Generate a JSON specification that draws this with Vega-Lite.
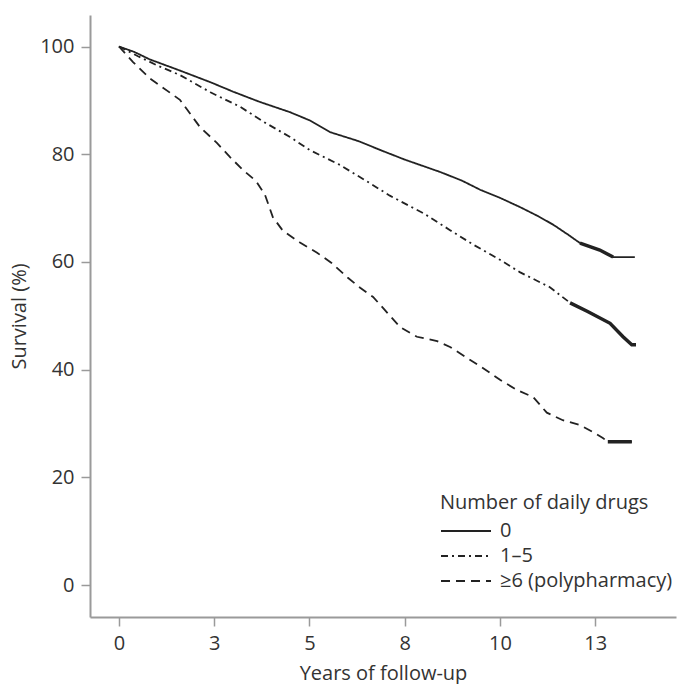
{
  "$schema": "https://vega.github.io/schema/vega-lite/v6.json",
  "width": 586,
  "height": 602,
  "autosize": "none",
  "padding": {"left": 90, "top": 15, "right": 4, "bottom": 67},
  "background": "white",
  "config": {
    "view": {"stroke": null},
    "font": "Open Sans",
    "axis": {
      "domainColor": "#9a9a9a",
      "domainWidth": 2,
      "tickColor": "#9a9a9a",
      "tickWidth": 1.5,
      "tickSize": 9,
      "grid": false,
      "labelFont": "Open Sans",
      "labelFontSize": 20,
      "labelColor": "#333333",
      "titleFont": "Open Sans",
      "titleFontSize": 20,
      "titleFontWeight": "normal",
      "titleColor": "#333333"
    }
  },
  "data": {
    "values": [
      {"group": "0", "t": 0, "s": 100, "dense": false},
      {"group": "0", "t": 0.4, "s": 99, "dense": false},
      {"group": "0", "t": 0.81, "s": 97.6, "dense": false},
      {"group": "0", "t": 1.5, "s": 95.8, "dense": false},
      {"group": "0", "t": 2.39, "s": 93.4, "dense": false},
      {"group": "0", "t": 3.0, "s": 91.6, "dense": false},
      {"group": "0", "t": 3.7, "s": 89.7, "dense": false},
      {"group": "0", "t": 4.49, "s": 87.8, "dense": false},
      {"group": "0", "t": 5.0, "s": 86.3, "dense": false},
      {"group": "0", "t": 5.54, "s": 84.1, "dense": false},
      {"group": "0", "t": 6.3, "s": 82.4, "dense": false},
      {"group": "0", "t": 6.85, "s": 80.8, "dense": false},
      {"group": "0", "t": 7.5, "s": 79.0, "dense": false},
      {"group": "0", "t": 8.43, "s": 76.7, "dense": false},
      {"group": "0", "t": 9.0, "s": 75.1, "dense": false},
      {"group": "0", "t": 9.48, "s": 73.4, "dense": false},
      {"group": "0", "t": 10.0, "s": 71.9, "dense": false},
      {"group": "0", "t": 10.52, "s": 70.2, "dense": false},
      {"group": "0", "t": 11.0, "s": 68.5, "dense": false},
      {"group": "0", "t": 11.4, "s": 66.9, "dense": false},
      {"group": "0", "t": 11.8, "s": 65.0, "dense": false},
      {"group": "0", "t": 12.1, "s": 63.5, "dense": true},
      {"group": "0", "t": 12.62, "s": 62.2, "dense": true},
      {"group": "0", "t": 12.97, "s": 60.9, "dense": true},
      {"group": "0", "t": 13.54, "s": 60.9, "dense": false},
      {"group": "1–5", "t": 0, "s": 100, "dense": false},
      {"group": "1–5", "t": 0.5, "s": 98.2, "dense": false},
      {"group": "1–5", "t": 1.0, "s": 96.5, "dense": false},
      {"group": "1–5", "t": 1.6, "s": 94.7, "dense": false},
      {"group": "1–5", "t": 2.4, "s": 91.5, "dense": false},
      {"group": "1–5", "t": 3.18, "s": 88.8, "dense": false},
      {"group": "1–5", "t": 3.8, "s": 86.0, "dense": false},
      {"group": "1–5", "t": 4.49, "s": 83.2, "dense": false},
      {"group": "1–5", "t": 5.0, "s": 80.8, "dense": false},
      {"group": "1–5", "t": 5.8, "s": 78.0, "dense": false},
      {"group": "1–5", "t": 6.5, "s": 75.0, "dense": false},
      {"group": "1–5", "t": 7.11, "s": 72.3, "dense": false},
      {"group": "1–5", "t": 8.0, "s": 69.0, "dense": false},
      {"group": "1–5", "t": 8.69, "s": 65.9, "dense": false},
      {"group": "1–5", "t": 9.3, "s": 63.2, "dense": false},
      {"group": "1–5", "t": 10.0, "s": 60.4, "dense": false},
      {"group": "1–5", "t": 10.52, "s": 58.1, "dense": false},
      {"group": "1–5", "t": 11.31, "s": 55.3, "dense": false},
      {"group": "1–5", "t": 11.84, "s": 52.4, "dense": true},
      {"group": "1–5", "t": 12.3, "s": 50.8, "dense": true},
      {"group": "1–5", "t": 12.89, "s": 48.6, "dense": true},
      {"group": "1–5", "t": 13.23, "s": 46.1, "dense": true},
      {"group": "1–5", "t": 13.46, "s": 44.6, "dense": true},
      {"group": "1–5", "t": 13.57, "s": 44.6, "dense": true},
      {"group": "≥6 (polypharmacy)", "t": 0, "s": 100, "dense": false},
      {"group": "≥6 (polypharmacy)", "t": 0.37, "s": 97.1, "dense": false},
      {"group": "≥6 (polypharmacy)", "t": 0.81, "s": 94.1, "dense": false},
      {"group": "≥6 (polypharmacy)", "t": 1.6, "s": 90.1, "dense": false},
      {"group": "≥6 (polypharmacy)", "t": 2.13, "s": 85.0, "dense": false},
      {"group": "≥6 (polypharmacy)", "t": 2.57, "s": 82.1, "dense": false},
      {"group": "≥6 (polypharmacy)", "t": 2.91, "s": 79.5, "dense": false},
      {"group": "≥6 (polypharmacy)", "t": 3.25, "s": 77.1, "dense": false},
      {"group": "≥6 (polypharmacy)", "t": 3.6, "s": 75.0, "dense": false},
      {"group": "≥6 (polypharmacy)", "t": 3.83, "s": 72.5, "dense": false},
      {"group": "≥6 (polypharmacy)", "t": 4.04, "s": 68.3, "dense": false},
      {"group": "≥6 (polypharmacy)", "t": 4.3, "s": 65.8, "dense": false},
      {"group": "≥6 (polypharmacy)", "t": 4.75, "s": 63.6, "dense": false},
      {"group": "≥6 (polypharmacy)", "t": 5.2, "s": 61.7, "dense": false},
      {"group": "≥6 (polypharmacy)", "t": 5.58, "s": 59.8, "dense": false},
      {"group": "≥6 (polypharmacy)", "t": 6.0, "s": 57.1, "dense": false},
      {"group": "≥6 (polypharmacy)", "t": 6.33, "s": 55.2, "dense": false},
      {"group": "≥6 (polypharmacy)", "t": 6.67, "s": 53.5, "dense": false},
      {"group": "≥6 (polypharmacy)", "t": 7.05, "s": 50.5, "dense": false},
      {"group": "≥6 (polypharmacy)", "t": 7.38, "s": 47.9, "dense": false},
      {"group": "≥6 (polypharmacy)", "t": 7.82, "s": 46.1, "dense": false},
      {"group": "≥6 (polypharmacy)", "t": 8.35, "s": 45.3, "dense": false},
      {"group": "≥6 (polypharmacy)", "t": 8.69, "s": 44.2, "dense": false},
      {"group": "≥6 (polypharmacy)", "t": 9.13, "s": 42.2, "dense": false},
      {"group": "≥6 (polypharmacy)", "t": 9.55, "s": 40.3, "dense": false},
      {"group": "≥6 (polypharmacy)", "t": 10.0, "s": 38.1, "dense": false},
      {"group": "≥6 (polypharmacy)", "t": 10.45, "s": 36.2, "dense": false},
      {"group": "≥6 (polypharmacy)", "t": 10.87, "s": 34.9, "dense": false},
      {"group": "≥6 (polypharmacy)", "t": 11.23, "s": 32.0, "dense": false},
      {"group": "≥6 (polypharmacy)", "t": 11.65, "s": 30.6, "dense": false},
      {"group": "≥6 (polypharmacy)", "t": 12.1, "s": 29.7, "dense": false},
      {"group": "≥6 (polypharmacy)", "t": 12.44, "s": 28.4, "dense": false},
      {"group": "≥6 (polypharmacy)", "t": 12.7, "s": 27.3, "dense": false},
      {"group": "≥6 (polypharmacy)", "t": 12.83, "s": 26.6, "dense": true},
      {"group": "≥6 (polypharmacy)", "t": 13.46, "s": 26.6, "dense": true}
    ]
  },
  "layer": [
    {
      "mark": {"type": "line", "color": "#222222", "strokeWidth": 1.8, "clip": true},
      "encoding": {
        "x": {
          "field": "t",
          "type": "quantitative",
          "scale": {"domain": [-0.76, 14.62], "nice": false, "zero": false},
          "axis": {
            "title": "Years of follow-up",
            "values": [0, 2.5, 5, 7.5, 10, 12.5],
            "labelExpr": "format(datum.value, '.0f')",
            "labelPadding": 7,
            "titlePadding": 10
          }
        },
        "y": {
          "field": "s",
          "type": "quantitative",
          "scale": {"domain": [-5.94, 105.85], "nice": false, "zero": false},
          "axis": {
            "title": "Survival (%)",
            "values": [0, 20, 40, 60, 80, 100],
            "labelPadding": 7,
            "titlePadding": 10
          }
        },
        "strokeDash": {
          "field": "group",
          "type": "nominal",
          "scale": {
            "domain": ["0", "1–5", "≥6 (polypharmacy)"],
            "range": [[1, 0], [7, 4, 2, 4], [9, 6]]
          },
          "legend": {
            "title": "Number of daily drugs",
            "orient": "none",
            "legendX": 350,
            "legendY": 478,
            "padding": 0,
            "titleFont": "Open Sans",
            "titleFontSize": 20,
            "titleFontWeight": "normal",
            "titleColor": "#333333",
            "titlePadding": 6,
            "titleLimit": 400,
            "labelFont": "Open Sans",
            "labelFontSize": 20,
            "labelColor": "#333333",
            "labelLimit": 400,
            "labelOffset": 8,
            "symbolType": "stroke",
            "symbolSize": 2500,
            "symbolStrokeWidth": 1.8,
            "symbolStrokeColor": "#222222",
            "clipHeight": 24,
            "rowPadding": 1
          }
        },
        "detail": {"field": "group"}
      }
    },
    {
      "transform": [{"filter": "datum.dense"}],
      "mark": {"type": "line", "color": "#222222", "strokeWidth": 3.5},
      "encoding": {
        "x": {"field": "t", "type": "quantitative"},
        "y": {"field": "s", "type": "quantitative"},
        "detail": {"field": "group"}
      }
    }
  ]
}
